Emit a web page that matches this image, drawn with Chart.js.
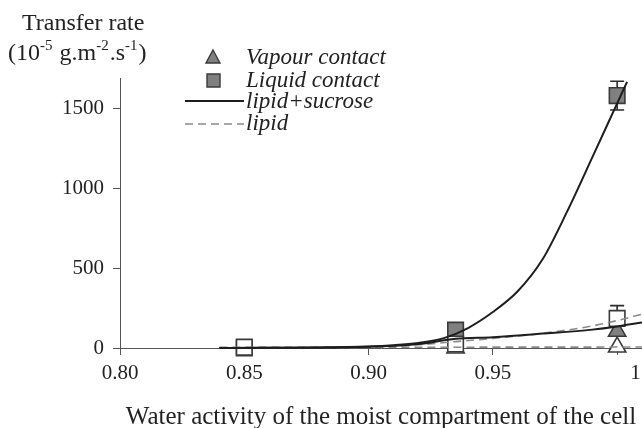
<!DOCTYPE html>
<html>
<head>
<meta charset="utf-8">
<script src="https://cdn.jsdelivr.net/npm/chart.js@4"></script>
<style>
  html, body { margin: 0; padding: 0; background: #fff; }
  #chart { display: block; }
</style>
</head>
<body>
<canvas id="chart" width="642" height="428"></canvas>
<script>
// x = water activity, y = transfer rate (10^-5 g.m^-2.s^-1)
const xTicks = [0.80, 0.85, 0.90, 0.95, 1.00];
const yTicks = [0, 500, 1000, 1500];

// measured points
const liquidSucroseAw = [0.85, 0.935, 1.0];
const liquidSucroseRate = [0, 112, 1580];
const liquidSucroseErrUp = [0, 0, 90];
const liquidSucroseErrDown = [0, 0, 90];

const liquidLipidAw = [0.85, 0.935, 1.0];
const liquidLipidRate = [5, 25, 185];
const liquidLipidErrUp = [0, 0, 80];
const liquidLipidErrDown = [0, 0, 0];

const vapourSucroseAw = [1.0];
const vapourSucroseRate = [105];

const vapourLipidAw = [0.935, 1.0];
const vapourLipidRate = [0, 6];

// fitted curves
const fitSucroseLiquidAw = [0.84, 0.86, 0.88, 0.90, 0.91, 0.92, 0.93, 0.94, 0.95, 0.96, 0.97, 0.98, 0.99, 1.0, 1.004];
const fitSucroseLiquidRate = [0, 1, 3, 10, 18, 32, 60, 125, 225, 355, 555, 858, 1193, 1531, 1666];

const fitSucroseVapourAw = [0.84, 0.90, 0.92, 0.935, 0.95, 0.97, 0.99, 1.0, 1.01];
const fitSucroseVapourRate = [0, 8, 25, 58, 68, 90, 115, 135, 160];

const fitLipidLiquidAw = [0.84, 0.90, 0.92, 0.935, 0.95, 0.97, 0.99, 1.0, 1.01];
const fitLipidLiquidRate = [0, 5, 20, 40, 60, 92, 138, 172, 212];

const fitLipidVapourAw = [0.84, 0.93, 1.01];
const fitLipidVapourRate = [4, 5, 6];

const SERIF = "'Liberation Serif', 'Times New Roman', serif";
const GREY_FILL = '#808080';

function pts(xs, ys) {
  return xs.map((x, i) => ({ x: x, y: ys[i] }));
}

function curve(xs, ys, dashed) {
  return {
    type: 'scatter',
    data: pts(xs, ys),
    showLine: true,
    pointRadius: 0,
    borderColor: dashed ? '#8a8a8a' : '#1e1e1e',
    borderWidth: dashed ? 1.6 : 2,
    borderDash: dashed ? [8, 5] : [],
    cubicInterpolationMode: 'monotone',
    clip: false
  };
}

function marker(xs, ys, style, filled, r) {
  return {
    type: 'scatter',
    data: pts(xs, ys),
    pointStyle: style,
    pointRadius: r,
    pointHoverRadius: r,
    backgroundColor: filled ? GREY_FILL : '#ffffff',
    borderColor: '#3a3a3a',
    borderWidth: 1.6,
    clip: false
  };
}

// error bars sit under the markers
const errorBars = {
  id: 'errorBars',
  beforeDatasetsDraw(chart) {
    const { ctx, scales: { x, y } } = chart;
    const sets = [
      [liquidSucroseAw, liquidSucroseRate, liquidSucroseErrUp, liquidSucroseErrDown],
      [liquidLipidAw, liquidLipidRate, liquidLipidErrUp, liquidLipidErrDown]
    ];
    ctx.save();
    ctx.strokeStyle = '#2b2b2b';
    ctx.lineWidth = 1.6;
    sets.forEach(([aw, rate, up, down]) => {
      aw.forEach((a, i) => {
        if (!up[i] && !down[i]) return;
        const px = x.getPixelForValue(a);
        const top = y.getPixelForValue(rate[i] + up[i]);
        const bot = y.getPixelForValue(rate[i] - down[i]);
        ctx.beginPath();
        ctx.moveTo(px, top); ctx.lineTo(px, bot);
        if (up[i]) { ctx.moveTo(px - 7, top); ctx.lineTo(px + 7, top); }
        if (down[i]) { ctx.moveTo(px - 7, bot); ctx.lineTo(px + 7, bot); }
        ctx.stroke();
      });
    });
    ctx.restore();
  }
};

// y title with superscripts, and the legend block
const annotations = {
  id: 'annotations',
  afterDraw(chart) {
    const ctx = chart.ctx;
    ctx.save();
    ctx.fillStyle = '#222';
    ctx.textBaseline = 'alphabetic';
    ctx.textAlign = 'left';

    ctx.font = '24px ' + SERIF;
    ctx.fillText('Transfer rate', 22, 30);

    const parts = [
      ['(10', false], ['-5', true], [' g.m', false], ['-2', true],
      ['.s', false], ['-1', true], [')', false]
    ];
    let cx = 8;
    parts.forEach(([t, sup]) => {
      ctx.font = (sup ? '15px ' : '24px ') + SERIF;
      ctx.fillText(t, cx, sup ? 50 : 60);
      cx += ctx.measureText(t).width + (sup ? 1 : 0);
    });

    // legend symbols
    ctx.fillStyle = GREY_FILL;
    ctx.strokeStyle = '#3a3a3a';
    ctx.lineWidth = 1.4;
    ctx.beginPath();
    ctx.moveTo(213, 50); ctx.lineTo(220, 63); ctx.lineTo(206, 63); ctx.closePath();
    ctx.fill(); ctx.stroke();
    ctx.beginPath();
    ctx.rect(207, 74, 13, 13);
    ctx.fill(); ctx.stroke();

    ctx.strokeStyle = '#1e1e1e';
    ctx.lineWidth = 2;
    ctx.beginPath(); ctx.moveTo(185, 101); ctx.lineTo(244, 101); ctx.stroke();
    ctx.strokeStyle = '#8a8a8a';
    ctx.lineWidth = 1.6;
    ctx.setLineDash([8, 5]);
    ctx.beginPath(); ctx.moveTo(185, 124); ctx.lineTo(244, 124); ctx.stroke();
    ctx.setLineDash([]);

    ctx.fillStyle = '#222';
    ctx.font = 'italic 23px ' + SERIF;
    ctx.fillText('Vapour contact', 246, 64);
    ctx.fillText('Liquid contact', 246, 87);
    ctx.fillText('lipid+sucrose', 246, 108);
    ctx.fillText('lipid', 246, 130);
    ctx.restore();
  }
};

const chart = new Chart(document.getElementById('chart'), {
  type: 'scatter',
  data: {
    datasets: [
      curve(fitSucroseLiquidAw, fitSucroseLiquidRate, false),
      curve(fitSucroseVapourAw, fitSucroseVapourRate, false),
      curve(fitLipidLiquidAw, fitLipidLiquidRate, true),
      curve(fitLipidVapourAw, fitLipidVapourRate, true),
      marker(liquidLipidAw, liquidLipidRate, 'rect', false, 11),
      marker(liquidSucroseAw, liquidSucroseRate, 'rect', true, 11),
      marker(vapourSucroseAw, vapourSucroseRate, 'triangle', true, 10),
      marker(vapourLipidAw, vapourLipidRate, 'triangle', false, 10)
    ]
  },
  options: {
    responsive: false,
    animation: false,
    layout: { autoPadding: false, padding: { top: 78, left: 0, right: 0, bottom: 0 } },
    plugins: {
      legend: { display: false },
      tooltip: { enabled: false }
    },
    scales: {
      x: {
        type: 'linear',
        min: 0.80,
        max: 1.01,
        afterBuildTicks: s => { s.ticks = xTicks.map(v => ({ value: v })); },
        afterFit: s => { s.height = 80; s.paddingLeft = 0; s.paddingRight = 0; },
        grid: { drawOnChartArea: false, tickLength: 7, color: '#555' },
        border: { color: '#555', width: 1 },
        ticks: {
          padding: 6,
          maxRotation: 0,
          color: '#222',
          font: { family: SERIF, size: 21 },
          callback: v => v === 1 ? '       1' : v.toFixed(2)
        },
        title: {
          display: true,
          text: 'Water activity of the moist compartment of the cell',
          color: '#222',
          font: { family: SERIF, size: 25 },
          padding: { top: 0, bottom: -4 }
        }
      },
      y: {
        type: 'linear',
        min: 0,
        max: 1690,
        afterBuildTicks: s => { s.ticks = yTicks.map(v => ({ value: v })); },
        afterFit: s => { s.width = 120; },
        grid: { drawOnChartArea: false, tickLength: 7, color: '#555' },
        border: { color: '#555', width: 1 },
        ticks: {
          padding: 9,
          color: '#222',
          font: { family: SERIF, size: 21 },
          callback: v => String(v)
        }
      }
    }
  },
  plugins: [errorBars, annotations]
});
</script>
</body>
</html>
